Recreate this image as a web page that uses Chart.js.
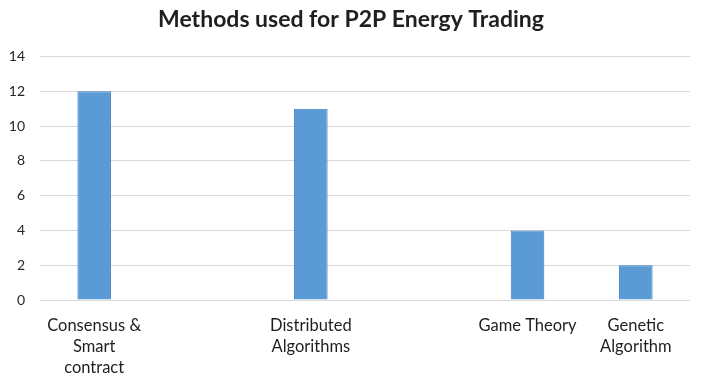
<!DOCTYPE html>
<html>
<head>
<meta charset="utf-8">
<script src="https://cdn.jsdelivr.net/npm/chart.js@4"></script>
<style>
html,body{margin:0;padding:0;background:#fff;}
#wrap{width:702px;height:381px;}
</style>
</head>
<body>
<div id="wrap"><canvas id="c" width="702" height="381"></canvas></div>
<script>
const categories = [["Consensus &","Smart","contract"], "", ["Distributed","Algorithms"], "", "Game Theory", ["Genetic","Algorithm"]];
const values = [12, null, 11, null, 4, 2];
const yTicks = [0, 2, 4, 6, 8, 10, 12, 14];
const titleText = "Methods used for P2P Energy Trading";

new Chart(document.getElementById('c'), {
  type: 'bar',
  data: {
    labels: categories,
    datasets: [{
      data: values,
      backgroundColor: '#5B9BD5',
      borderColor: '#3F7FC4',
      borderWidth: 1,
      barPercentage: 0.62,
      categoryPercentage: 0.5
    }]
  },
  options: {
    responsive: false,
    animation: false,
    layout: { padding: { left: 0, right: 0, top: 0, bottom: 0 } },
    plugins: {
      legend: { display: false },
      tooltip: { enabled: false },
      title: {
        display: true,
        text: titleText,
        color: '#1f1f1f',
        font: { family: 'Lato', size: 23, weight: 'bold', lineHeight: 1.2 },
        padding: { top: 6, bottom: 23 }
      }
    },
    scales: {
      x: {
        grid: { display: false },
        border: { display: false },
        ticks: {
          color: '#1f1f1f',
          font: { family: 'Lato', size: 16.5, lineHeight: 1.27 },
          maxRotation: 0,
          minRotation: 0,
          autoSkip: false,
          padding: 7
        },
        afterFit: (s) => { s.height = 81; }
      },
      y: {
        min: 0, max: 14,
        afterBuildTicks: (s) => { s.ticks = yTicks.map(v => ({ value: v })); },
        grid: { color: '#D9D9D9', lineWidth: 1, drawTicks: false },
        border: { display: false },
        ticks: {
          color: '#262626',
          font: { family: 'Lato', size: 14 },
          padding: 15
        },
        afterFit: (s) => { s.width = 40; }
      },
      yR: {
        position: 'right',
        display: true,
        grid: { display: false },
        border: { display: false },
        ticks: { display: false },
        afterFit: (s) => { s.width = 12; }
      }
    }
  }
});
</script>
</body>
</html>
